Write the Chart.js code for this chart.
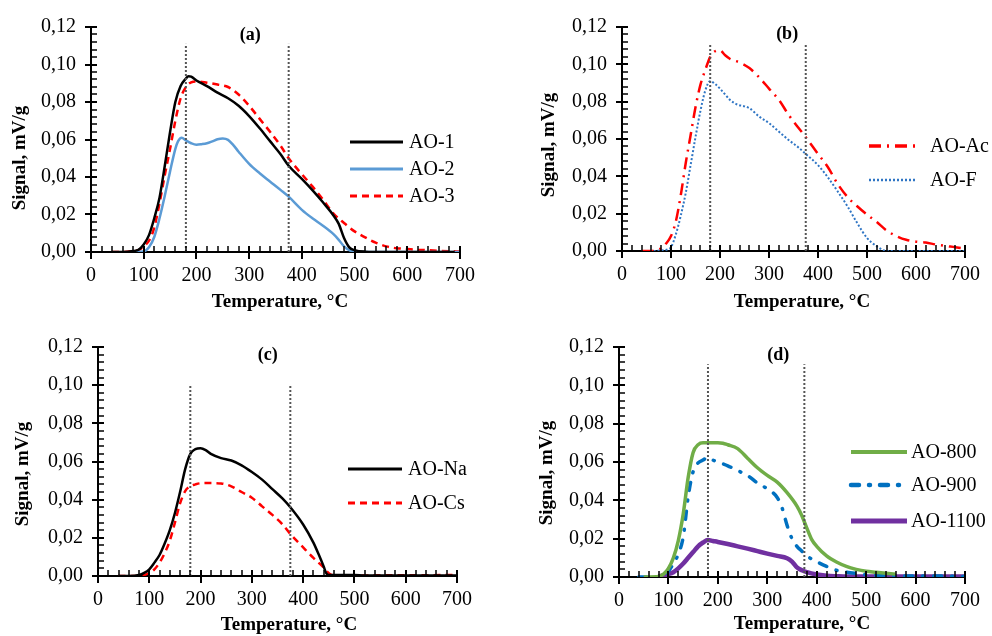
<!DOCTYPE html>
<html>
<head>
<meta charset="utf-8">
<script src="https://cdn.jsdelivr.net/npm/chart.js@4.4.0/dist/chart.umd.min.js"></script>
<style>
  html, body { margin: 0; padding: 0; background: #fff; }
  #wrap { position: relative; width: 992px; height: 636px; }
  canvas { position: absolute; }
</style>
</head>
<body>
<div id="wrap">
  <canvas id="pa" width="496" height="318" style="left:0;top:0"></canvas>
  <canvas id="pb" width="496" height="318" style="left:496px;top:0"></canvas>
  <canvas id="pc" width="496" height="318" style="left:0;top:318px"></canvas>
  <canvas id="pd" width="496" height="318" style="left:496px;top:318px"></canvas>
</div>
<script>
// axis setup
const xTicks = [0, 100, 200, 300, 400, 500, 600, 700];
const yTicks = [0, 0.02, 0.04, 0.06, 0.08, 0.10, 0.12];
const xMinorStep = 20;
const yMinorStep = 0.004;
const xTitle = 'Temperature, °C';
const yTitle = 'Signal, mV/g';
const markerTemps = [180, 375];

// (a)
const tAO1 = [40,60,80,90,100,110,120,130,140,150,160,170,180,185,190,200,220,240,260,280,300,320,340,360,375,400,420,440,460,470,480,490,500,520,560,600,650,690];
const sAO1 = [0,0,0.0005,0.0012,0.004,0.009,0.018,0.029,0.046,0.064,0.080,0.0885,0.0925,0.0938,0.0935,0.0915,0.0885,0.085,0.082,0.078,0.0725,0.066,0.059,0.052,0.046,0.039,0.033,0.0265,0.0195,0.015,0.0075,0.0025,0.001,0.0002,0,0,0,0];
const tAO2 = [80,100,110,120,130,140,150,160,165,172,180,190,200,210,220,230,240,250,260,270,280,300,320,340,360,375,400,420,440,460,470,480,490,500,520,600,700];
const sAO2 = [0,0.0003,0.0025,0.008,0.018,0.03,0.043,0.055,0.059,0.061,0.0595,0.058,0.0572,0.0575,0.058,0.059,0.0601,0.0605,0.0598,0.057,0.0535,0.047,0.042,0.0375,0.033,0.0295,0.0225,0.018,0.014,0.0095,0.0065,0.003,0.001,0.0003,0,0,0];
const tAO3 = [40,60,80,90,100,110,120,130,140,150,160,170,180,190,200,220,240,260,280,300,320,340,360,375,400,420,440,460,480,500,520,540,560,580,600,620,650,680,700];
const sAO3 = [0,0,0.0005,0.001,0.003,0.006,0.013,0.026,0.041,0.055,0.070,0.082,0.088,0.0905,0.091,0.0903,0.0893,0.088,0.084,0.078,0.071,0.064,0.0565,0.050,0.0415,0.035,0.028,0.0205,0.0155,0.011,0.0078,0.005,0.003,0.002,0.0016,0.0012,0.0008,0.0004,0.0003];

// (b)
const tAc = [40,50,60,70,80,90,100,110,120,130,140,150,160,170,180,190,200,210,220,240,260,280,300,320,340,360,375,400,420,440,460,480,500,520,540,560,580,600,620,640,660,680,700];
const sAc = [0,0,0,0.0005,0.0015,0.004,0.008,0.016,0.030,0.047,0.062,0.077,0.089,0.097,0.104,0.107,0.1075,0.105,0.103,0.101,0.098,0.093,0.087,0.081,0.073,0.066,0.061,0.052,0.045,0.036,0.029,0.024,0.0195,0.0155,0.011,0.008,0.006,0.005,0.0045,0.0035,0.0027,0.002,0.0012];
const tF = [40,60,80,95,100,110,120,130,140,150,160,170,180,190,200,210,220,235,250,260,280,300,320,340,360,375,400,420,440,460,480,500,520,540,560,600,650,700];
const sF = [0,0,0.0003,0.001,0.002,0.009,0.019,0.031,0.046,0.061,0.075,0.086,0.091,0.0895,0.087,0.084,0.081,0.0785,0.0775,0.0765,0.072,0.0685,0.064,0.0595,0.0555,0.052,0.046,0.0395,0.032,0.024,0.015,0.007,0.0025,0,0,0,0,0];

// (c)
const tNa = [40,60,80,90,100,110,120,130,140,150,160,170,180,190,200,210,220,240,260,280,300,320,340,360,375,400,420,430,440,445,450,500,520,600,700];
const sNa = [0,0,0.0005,0.0016,0.0035,0.007,0.011,0.017,0.024,0.033,0.044,0.056,0.064,0.0665,0.067,0.066,0.064,0.0618,0.0605,0.058,0.0545,0.0505,0.0455,0.0405,0.036,0.027,0.0175,0.0115,0.005,0.0015,0.0005,0.0005,0.0003,0.0003,0.0003];
const tCs = [40,80,90,100,110,120,130,140,150,160,170,180,190,200,220,240,260,280,300,320,340,360,375,400,420,440,450,460,700];
const sCs = [0,0,0.0005,0.0015,0.0035,0.007,0.012,0.0185,0.028,0.038,0.0445,0.047,0.048,0.0486,0.0487,0.0485,0.047,0.044,0.041,0.0365,0.032,0.027,0.022,0.015,0.0095,0.0045,0.0015,0.0003,0.0005];

// (d)
const t800 = [50,80,90,100,110,120,130,140,150,160,170,180,200,210,220,240,260,280,300,320,340,360,370,380,390,400,420,440,460,480,500,520,540,560];
const s800 = [0,0.0003,0.0015,0.0045,0.010,0.019,0.033,0.052,0.065,0.069,0.070,0.070,0.070,0.0698,0.069,0.067,0.062,0.057,0.053,0.0495,0.044,0.037,0.032,0.0255,0.0195,0.016,0.011,0.0078,0.0055,0.004,0.003,0.0025,0.002,0.0015];
const t900 = [40,60,80,90,100,110,120,130,140,150,160,170,180,190,200,220,240,260,280,300,320,330,340,350,360,370,380,400,420,440,460,480,500,540,600,650,700];
const s900 = [0,0,0,0.001,0.003,0.007,0.012,0.021,0.042,0.055,0.0595,0.061,0.0625,0.061,0.060,0.058,0.0555,0.053,0.049,0.046,0.0415,0.036,0.027,0.020,0.016,0.0135,0.011,0.008,0.0055,0.0035,0.0025,0.0018,0.0012,0.0008,0.0005,0.0005,0.0003];
const t1100 = [80,100,110,120,130,140,150,160,170,180,190,200,220,240,260,280,300,320,340,350,360,370,380,400,420,440,460,500,600,700];
const s1100 = [0.0003,0.0015,0.0025,0.0045,0.007,0.010,0.013,0.016,0.018,0.0193,0.0188,0.0183,0.0172,0.016,0.0148,0.0135,0.0122,0.011,0.0098,0.008,0.005,0.0035,0.0025,0.0013,0.0007,0.0004,0.0002,0.0002,0.0002,0.0002];

const FONT = "'Liberation Serif', 'Times New Roman', serif";
Chart.defaults.font.family = FONT;
Chart.defaults.color = '#000';

function pts(ts, vs) {
  return ts.map((t, i) => ({ x: t, y: vs[i] }));
}

function series(label, ts, vs, style) {
  return Object.assign({
    label, data: pts(ts, vs),
    pointRadius: 0, fill: false,
    cubicInterpolationMode: 'monotone'
  }, style);
}

function markers(top) {
  return markerTemps.map(t => ({
    data: [{ x: t, y: 0 }, { x: t, y: top }],
    borderColor: '#555', borderWidth: 2, borderDash: [2, 2],
    pointRadius: 0, tension: 0, fill: false
  }));
}

// ticks, axis titles, panel letter and legend
const decor = {
  id: 'decor',
  afterDraw(chart, args, o) {
    const { ctx, chartArea: a } = chart;
    const x = chart.scales.x, y = chart.scales.y;
    ctx.save();
    ctx.strokeStyle = '#000';
    for (let t = xTicks[0]; t <= xTicks[xTicks.length - 1]; t += xMinorStep) {
      const px = Math.round(x.getPixelForValue(t));
      const major = t % 100 === 0;
      ctx.lineWidth = major ? 2 : 1.5;
      ctx.beginPath();
      ctx.moveTo(px, a.bottom + (major ? 7 : 0));
      ctx.lineTo(px, a.bottom - 6);
      ctx.stroke();
    }
    const nMinor = Math.round(yTicks[yTicks.length - 1] / yMinorStep);
    for (let i = 0; i <= nMinor; i++) {
      const py = Math.round(y.getPixelForValue(i * yMinorStep));
      const major = i % 5 === 0;
      ctx.lineWidth = major ? 2 : 1.5;
      ctx.beginPath();
      ctx.moveTo(a.left - (major ? 6 : 0), py);
      ctx.lineTo(a.left + 6, py);
      ctx.stroke();
    }

    ctx.fillStyle = '#000';
    ctx.textAlign = 'center';
    ctx.textBaseline = 'middle';
    ctx.font = 'bold 19px ' + FONT;
    ctx.fillText(xTitle, o.xt[0], o.xt[1]);
    ctx.save();
    ctx.translate(o.yt[0], o.yt[1]);
    ctx.rotate(-Math.PI / 2);
    ctx.fillText(yTitle, 0, 0);
    ctx.restore();

    ctx.font = 'bold 18px ' + FONT;
    ctx.fillText(o.letter, x.getPixelForValue(o.letterAt[0]), y.getPixelForValue(o.letterAt[1]));

    // legend
    ctx.font = '20px ' + FONT;
    ctx.textAlign = 'left';
    let row = 0;
    chart.data.datasets.forEach(ds => {
      if (!ds.label) return;
      const ly = o.rows[row++];
      ctx.save();
      ctx.strokeStyle = ds.borderColor;
      ctx.lineWidth = ds.legendWidth || ds.borderWidth;
      ctx.lineCap = ds.borderCapStyle || 'butt';
      ctx.setLineDash(ds.borderDash || []);
      ctx.beginPath();
      ctx.moveTo(o.line[0], ly);
      ctx.lineTo(o.line[1], ly);
      ctx.stroke();
      ctx.restore();
      ctx.fillText(ds.label, o.text, ly + 1);
    });
    ctx.restore();
  }
};

function makeChart(id, datasets, box, deco) {
  return new Chart(document.getElementById(id), {
    type: 'line',
    data: { datasets },
    options: {
      responsive: false,
      animation: false,
      devicePixelRatio: 1,
      layout: { padding: { left: 0, top: box.top, right: 496 - box.right, bottom: 0 } },
      plugins: { legend: { display: false }, tooltip: { enabled: false }, decor: deco },
      scales: {
        x: {
          type: 'linear', min: 0, max: 700,
          afterFit: s => { s.height = 318 - box.bottom; },
          afterBuildTicks: s => { s.ticks = xTicks.map(v => ({ value: v })); },
          grid: { display: false, drawTicks: false },
          border: { display: true, color: '#000', width: 2 },
          ticks: { padding: 12, font: { size: 20 }, color: '#000', maxRotation: 0 }
        },
        y: {
          type: 'linear', min: 0, max: 0.12,
          afterFit: s => { s.width = box.left; },
          afterBuildTicks: s => { s.ticks = yTicks.map(v => ({ value: v })); },
          grid: { display: false, drawTicks: false },
          border: { display: true, color: '#000', width: 2 },
          ticks: {
            padding: 15, font: { size: 20 }, color: '#000',
            callback: v => v.toFixed(2).replace('.', ',')
          }
        }
      }
    },
    plugins: [decor]
  });
}

makeChart('pa', [
  ...markers(0.111),
  series('AO-1', tAO1, sAO1, { borderColor: '#000000', borderWidth: 2.5, legendWidth: 3 }),
  series('AO-2', tAO2, sAO2, { borderColor: '#5b9bd5', borderWidth: 2.5, legendWidth: 3 }),
  series('AO-3', tAO3, sAO3, { borderColor: '#ff0000', borderWidth: 2.5, legendWidth: 3, borderDash: [7, 5] })
], { left: 91, right: 460, top: 24, bottom: 252 },
{ xt: [280, 302], yt: [20, 158], letter: '(a)', letterAt: [302, 0.1158],
  line: [350, 403], text: 409, rows: [142, 169, 196] });

makeChart('pb', [
  ...markers(0.111),
  series('AO-Ac', tAc, sAc, { borderColor: '#ff0000', borderWidth: 2.5, legendWidth: 3.5, borderDash: [12, 6, 2, 6] }),
  series('AO-F', tF, sF, { borderColor: '#2f75c4', borderWidth: 2, legendWidth: 2.5, borderDash: [2, 2] })
], { left: 126, right: 479, top: 24, bottom: 251 },
{ xt: [306, 302], yt: [53, 145], letter: '(b)', letterAt: [337, 0.1163],
  line: [373, 419], text: 434, rows: [146, 180] });

makeChart('pc', [
  ...markers(0.10),
  series('AO-Na', tNa, sNa, { borderColor: '#000000', borderWidth: 2.5, legendWidth: 3 }),
  series('AO-Cs', tCs, sCs, { borderColor: '#ff0000', borderWidth: 2.5, legendWidth: 3, borderDash: [7, 5] })
], { left: 98, right: 457, top: 29, bottom: 258 },
{ xt: [289, 307], yt: [23, 156], letter: '(c)', letterAt: [331, 0.1158],
  line: [348, 402], text: 408, rows: [151, 185] });

makeChart('pd', [
  ...markers(0.111),
  series('AO-800', t800, s800, { borderColor: '#70ad47', borderWidth: 3.5, legendWidth: 4 }),
  series('AO-900', t900, s900, { borderColor: '#0070c0', borderWidth: 3.5, legendWidth: 4.5, borderDash: [8, 10, 1, 10], borderCapStyle: 'round' }),
  series('AO-1100', t1100, s1100, { borderColor: '#7030a0', borderWidth: 4.5, legendWidth: 5 })
], { left: 123, right: 480, top: 29, bottom: 259 },
{ xt: [306, 306], yt: [51, 155], letter: '(d)', letterAt: [322, 0.1158],
  line: [355, 411], text: 415, rows: [134, 167, 203] });
</script>
</body>
</html>
